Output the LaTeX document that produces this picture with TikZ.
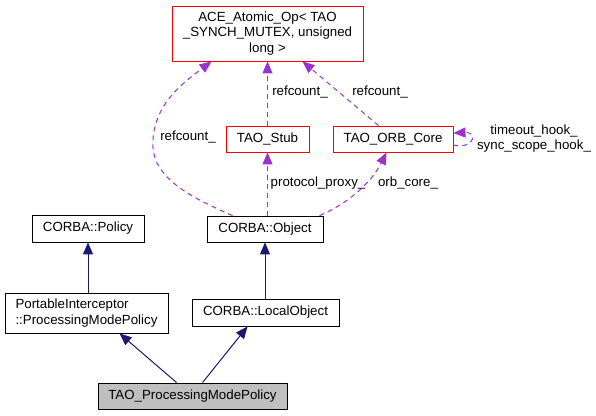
\documentclass[tikz,border=0pt]{standalone}
\usepackage{fontspec}
\setmainfont{Liberation Sans}
\usetikzlibrary{arrows.meta}
\definecolor{edgeblue}{HTML}{191970}
\definecolor{edgepurple}{HTML}{9A32CD}
\definecolor{boxgray}{HTML}{BFBFBF}
\begin{document}
\begin{tikzpicture}[x=1pt,y=-1pt,font=\fontsize{13.3}{15.3}\selectfont,
  box/.style={draw=black,line width=0.9pt,inner sep=0pt,align=center},
  redbox/.style={box,draw=red},
  inh/.style={draw=edgeblue,line width=1pt,-{Triangle[length=12pt,width=10pt]}},
  use/.style={draw=edgepurple,line width=1pt,dash pattern=on 5pt off 4pt,-{Triangle[length=12pt,width=10pt]}},
  lbl/.style={inner sep=0pt,align=center}]
\useasboundingbox (0,0) rectangle (596,415);
% nodes
\node[redbox,minimum width=191pt,minimum height=55pt] (ACE) at (267.5,33.5) {ACE\_Atomic\_Op< TAO\\\_SYNCH\_MUTEX, unsigned\\long >};
\node[redbox,minimum width=83pt,minimum height=26pt] (Stub) at (267.5,139) {TAO\_Stub};
\node[redbox,minimum width=120pt,minimum height=26pt] (ORB) at (393,139) {TAO\_ORB\_Core};
\node[box,minimum width=116pt,minimum height=26pt] (Object) at (265,229) {CORBA::Object};
\node[box,minimum width=112pt,minimum height=27pt] (Policy) at (88,228.5) {CORBA::Policy};
\node[box,align=left,minimum width=163pt,minimum height=40pt] (PI) at (86.5,313) {PortableInterceptor\\::ProcessingModePolicy};
\node[box,minimum width=147pt,minimum height=27pt] (Local) at (265.5,312.5) {CORBA::LocalObject};
\node[box,fill=boxgray,minimum width=189pt,minimum height=26pt] (PMP) at (192.5,396) {TAO\_ProcessingModePolicy};
% inheritance
\draw[inh] (Policy.south |- PI.north) -- (Policy.south);
\draw[inh] (Local.north -| Object.south) -- (Object.south);
\draw[inh] ([xshift=79pt]PMP.north west) -- ([xshift=115pt]PI.south west);
\draw[inh] ([xshift=105pt]PMP.north west) -- ([xshift=56pt]Local.south west);
% usage
\draw[use] (Stub.north) -- (Stub.north |- ACE.south);
\draw[use] (Object.north -| Stub.south) -- (Stub.south);
\draw[use] ([xshift=46pt]ORB.north west) -- ([xshift=131pt]ACE.south west);
\draw[use] ([xshift=113pt]Object.north west) .. controls (345,205) and (370,185) .. ([xshift=54pt]ORB.south west);
\draw[use] ([xshift=26pt]Object.north west) .. controls (185,195) and (150,175) .. (153,140) .. controls (155,105) and (180,85) .. ([xshift=40pt]ACE.south west);
\draw[use] ([yshift=-6pt]ORB.east) .. controls (472,150) and (480,132) .. ([yshift=6pt]ORB.east);
% labels
\node[lbl] (l1) at (188,137) {refcount\_};
\node[lbl] (l2) at (300,92) {refcount\_};
\node[lbl] (l3) at (380,92) {refcount\_};
\node[lbl] (l4) at (318,183) {protocol\_proxy\_};
\node[lbl] (l5) at (408,183) {orb\_core\_};
\node[lbl] (l6) at (534,138.5) {timeout\_hook\_\\sync\_scope\_hook\_};
\end{tikzpicture}
\end{document}
